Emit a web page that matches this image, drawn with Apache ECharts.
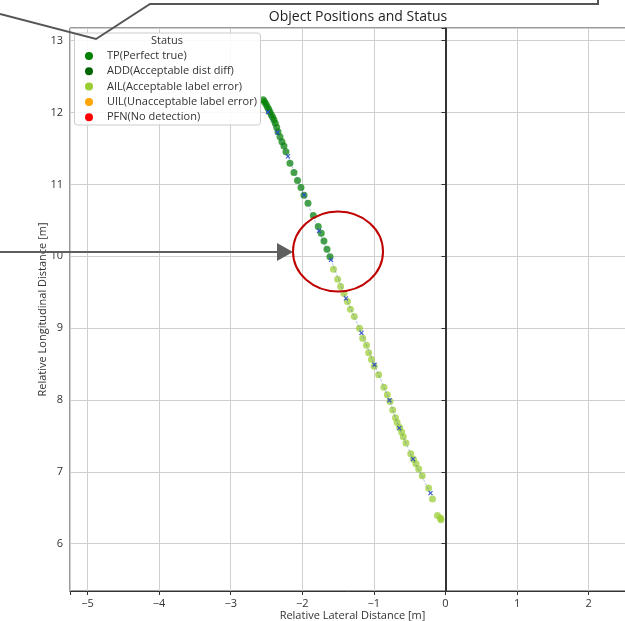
<!DOCTYPE html>
<html>
<head>
<meta charset="utf-8">
<script src="https://cdn.jsdelivr.net/npm/echarts@6/dist/echarts.min.js"></script>
<style>
  html, body { margin: 0; padding: 0; background: #fff; }
  #chart { width: 625px; height: 621px; }
</style>
</head>
<body>
<div id="chart"></div>
<script>
// status groups, lateral (x) / longitudinal (y) distances in metres
const tpLateral = [-2.545, -2.528, -2.507, -2.489, -2.469, -2.451, -2.433, -2.413, -2.395, -2.377,
  -2.358, -2.339, -2.311, -2.284, -2.256, -2.228, -2.172, -2.116, -2.067, -2.018,
  -1.976, -1.920, -1.846, -1.777, -1.735, -1.697, -1.655, -1.613];
const tpLongitudinal = [12.18, 12.152, 12.12, 12.082, 12.046, 12.008, 11.971, 11.935, 11.897, 11.851,
  11.796, 11.734, 11.665, 11.595, 11.535, 11.456, 11.295, 11.167, 11.056, 10.958,
  10.85, 10.739, 10.566, 10.416, 10.321, 10.214, 10.099, 9.992];

const ailLateral = [-1.564, -1.506, -1.464, -1.418, -1.369, -1.327, -1.274, -1.201, -1.156, -1.103,
  -1.073, -1.034, -0.996, -0.933, -0.859, -0.813, -0.775, -0.737, -0.698, -0.675,
  -0.640, -0.612, -0.589, -0.552, -0.485, -0.447, -0.412, -0.374, -0.325, -0.235,
  -0.182, -0.112, -0.070, -0.063];
const ailLongitudinal = [9.818, 9.682, 9.579, 9.481, 9.37, 9.264, 9.161, 9.0, 8.858, 8.761,
  8.656, 8.563, 8.469, 8.35, 8.177, 8.072, 7.979, 7.86, 7.752, 7.687,
  7.618, 7.554, 7.488, 7.401, 7.252, 7.175, 7.113, 7.039, 6.946, 6.775,
  6.622, 6.394, 6.357, 6.334];

const addLateral = [];
const addLongitudinal = [];
const uilLateral = [];
const uilLongitudinal = [];
const pfnLateral = [];
const pfnLongitudinal = [];

// ground-truth track (small blue marks)
const gtLateral = [-2.479, -2.346, -2.200, -1.976, -1.767, -1.599, -1.390, -1.173, -0.992, -0.782, -0.645, -0.454, -0.209];
const gtLongitudinal = [12.008, 11.723, 11.39, 10.854, 10.353, 9.95, 9.414, 8.935, 8.49, 7.996, 7.609, 7.178, 6.705];

const statusNames = ['TP(Perfect true)', 'ADD(Acceptable dist diff)', 'AIL(Acceptable label error)',
  'UIL(Unacceptable label error)', 'PFN(No detection)'];
const statusColors = ['#008000', '#006400', '#9acd32', '#ffa500', '#ff0000'];

const zip = (xs, ys) => xs.map((x, i) => [x, ys[i]]);
const FONT = 'Open Sans';
const minus = (v) => String(v).replace('-', '\u2212');
const intLabel = (v) => (Math.abs(v - Math.round(v)) < 1e-6 ? minus(Math.round(v)) : '');

const groups = [
  zip(tpLateral, tpLongitudinal),
  zip(addLateral, addLongitudinal),
  zip(ailLateral, ailLongitudinal),
  zip(uilLateral, uilLongitudinal),
  zip(pfnLateral, pfnLongitudinal),
];

const chart = echarts.init(document.getElementById('chart'), null, { renderer: 'canvas' });

const scatterSeries = statusNames.map((name, i) => ({
  name,
  type: 'scatter',
  data: groups[i],
  symbol: 'circle',
  symbolSize: 7,
  itemStyle: { color: statusColors[i], opacity: 0.72 },
  z: 3,
}));

const option = {
  animation: false,
  textStyle: { fontFamily: FONT },
  grid: {
    left: 70, top: 28, right: -10, bottom: 30,
    outerBoundsMode: 'none',
    show: true, borderColor: '#333', borderWidth: 1,
  },
  xAxis: {
    type: 'value',
    min: -5.244,
    max: 2.647,
    splitNumber: 8,
    name: 'Relative Lateral Distance [m]',
    nameLocation: 'middle',
    nameGap: 19,
    nameMoveOverlap: false,
    nameTextStyle: { fontFamily: FONT, fontSize: 11, color: '#333' },
    axisLine: { show: true, lineStyle: { color: '#333', width: 1 } },
    axisTick: { show: true, length: 4, lineStyle: { color: '#333' } },
    axisLabel: { formatter: intLabel, fontFamily: FONT, fontSize: 11, color: '#333', margin: 7 },
    splitLine: { show: true, lineStyle: { color: '#cfcfcf', width: 1 } },
  },
  yAxis: {
    type: 'value',
    min: 5.342,
    max: 13.177,
    splitNumber: 8,
    name: 'Relative Longitudinal Distance [m]',
    nameLocation: 'middle',
    nameGap: 22,
    nameMoveOverlap: false,
    nameTextStyle: { fontFamily: FONT, fontSize: 11, color: '#333' },
    axisLine: { show: true, lineStyle: { color: '#333', width: 1 } },
    axisTick: { show: true, length: 4, lineStyle: { color: '#333' } },
    axisLabel: { formatter: intLabel, fontFamily: FONT, fontSize: 11, color: '#333', margin: 7 },
    splitLine: { show: true, lineStyle: { color: '#cfcfcf', width: 1 } },
  },
  legend: {
    data: statusNames,
    orient: 'vertical',
    left: 85,
    top: 49.5,
    padding: 0,
    itemWidth: 26,
    itemHeight: 8,
    itemGap: 2.3,
    icon: 'circle',
    itemStyle: { opacity: 1 },
    textStyle: { fontFamily: FONT, fontSize: 11, color: '#333', lineHeight: 13 },
    z: 20,
  },
  graphic: [
    {
      type: 'text',
      x: 358, y: 17, z: 30,
      style: { text: 'Object Positions and Status', font: '14px "Open Sans"', fill: '#222', align: 'center', verticalAlign: 'middle' },
    },
    {
      type: 'rect',
      shape: { x: 74.5, y: 33, width: 186, height: 92, r: 3 },
      style: { fill: 'rgba(255,255,255,0.88)', stroke: '#cccccc', lineWidth: 1 },
      z: 10,
    },
    {
      type: 'text',
      x: 167, y: 41, z: 21,
      style: { text: 'Status', font: '11px "Open Sans"', fill: '#333', align: 'center', verticalAlign: 'middle' },
    },
    // callout outline at the top
    {
      type: 'polyline',
      shape: { points: [[0, 14], [96, 39], [150, 4], [598, 4], [598, 0]] },
      style: { stroke: '#555', lineWidth: 2, fill: null },
      z: 40,
    },
    // pointer arrow
    {
      type: 'line',
      shape: { x1: 0, y1: 252, x2: 280, y2: 252 },
      style: { stroke: '#5f5f5f', lineWidth: 2 },
      z: 40,
    },
    {
      type: 'polygon',
      shape: { points: [[277, 243], [293, 252], [277, 261]] },
      style: { fill: '#5f5f5f' },
      z: 40,
    },
    // red highlight ellipse
    {
      type: 'ellipse',
      shape: { cx: 338, cy: 251.5, rx: 45, ry: 40 },
      style: { stroke: '#c00000', lineWidth: 2, fill: null },
      z: 40,
    },
  ],
  series: [
    ...scatterSeries,
    {
      name: 'GT',
      type: 'line',
      data: zip(gtLateral, gtLongitudinal),
      symbol: 'path://M0,0L10,10M10,0L0,10',
      symbolSize: 4,
      lineStyle: { color: '#3355cc', width: 0.7, type: 'dashed', opacity: 0.5 },
      itemStyle: { color: 'none', borderColor: '#2a48c8', borderWidth: 1.2, opacity: 0.9 },
      z: 5,
      markLine: {
        silent: true,
        symbol: 'none',
        label: { show: false },
        lineStyle: { color: '#333', width: 2, type: 'solid', opacity: 1 },
        data: [{ xAxis: 0 }],
      },
    },
  ],
};

chart.setOption(option);
</script>
</body>
</html>
